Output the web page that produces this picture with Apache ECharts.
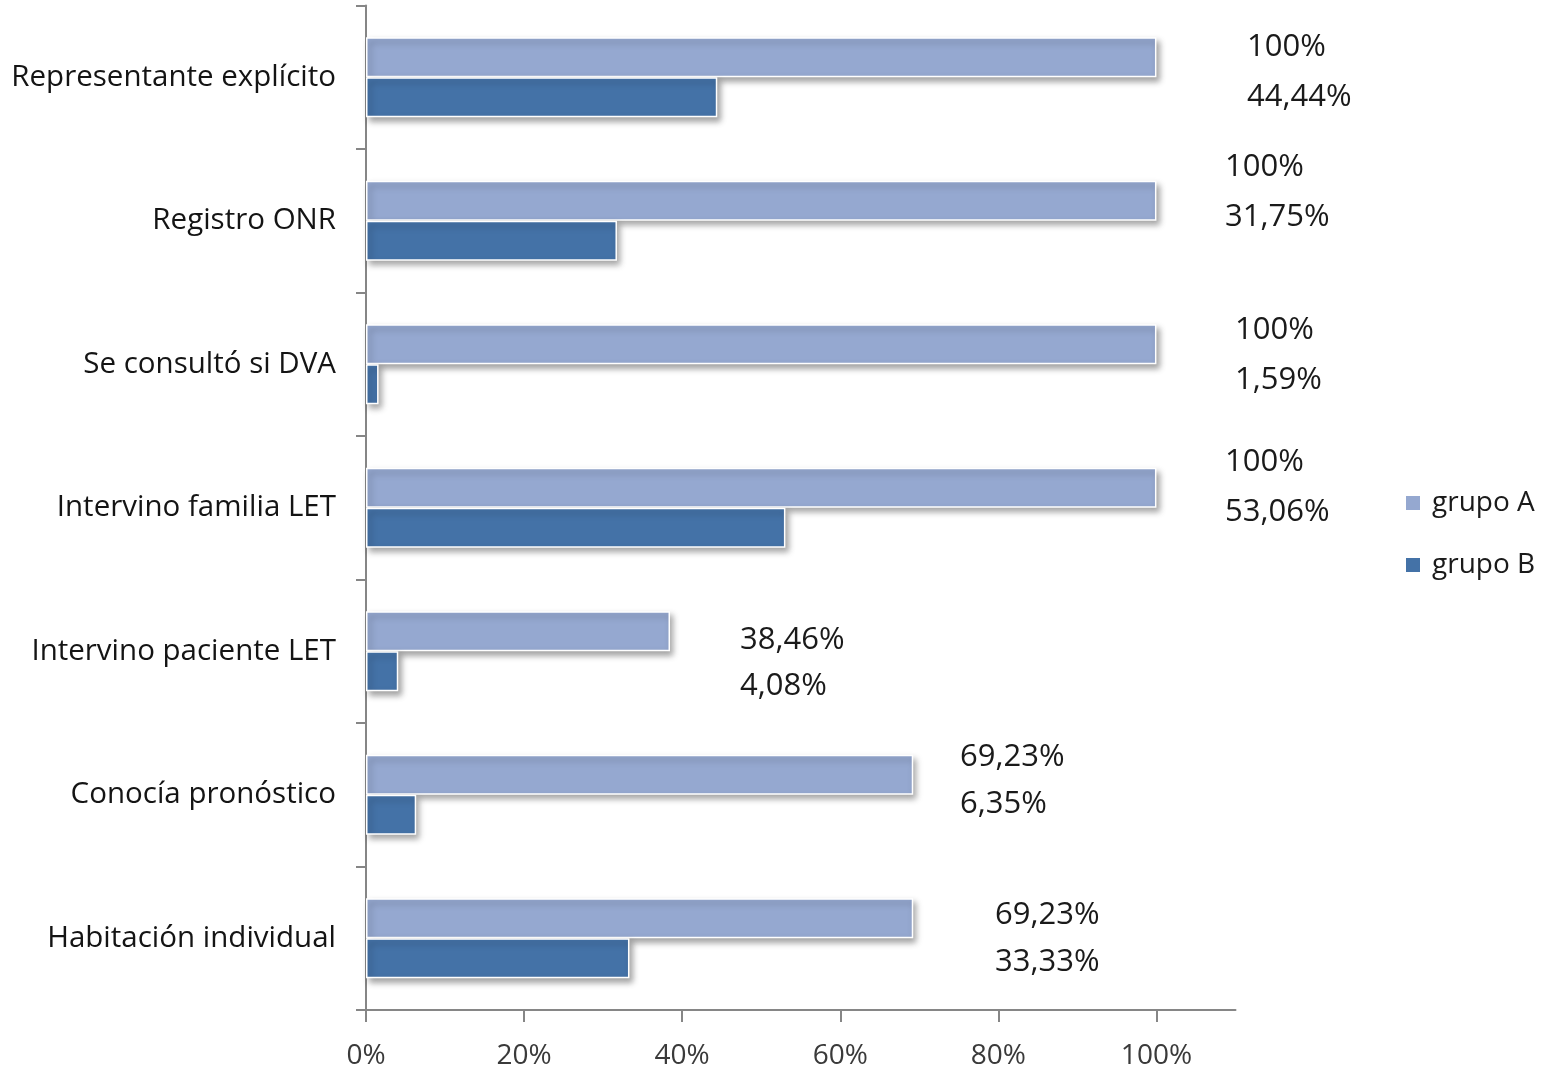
<!DOCTYPE html>
<html>
<head>
<meta charset="utf-8">
<script src="https://cdn.jsdelivr.net/npm/echarts@6/dist/echarts.min.js"></script>
<style>
  html, body { margin: 0; padding: 0; background: #ffffff; }
  #chart { width: 1545px; height: 1071px; }
</style>
</head>
<body>
<div id="chart"></div>
<script>
// Categories, top to bottom
const categories = [
  'Representante explícito',
  'Registro ONR',
  'Se consultó si DVA',
  'Intervino familia LET',
  'Intervino paciente LET',
  'Conocía pronóstico',
  'Habitación individual'
];
// Percentages per group
const grupoA = [100, 100, 100, 100, 38.46, 69.23, 69.23];
const grupoB = [44.44, 31.75, 1.59, 53.06, 4.08, 6.35, 33.33];
// Tick values on the percentage axis
const xTicks = [0, 20, 40, 60, 80, 100];

// Where each pair of value labels sits: left edge x and centre y (px)
const labelX  = [1247, 1225, 1235, 1225, 740, 960, 995];
const labelYA = [47, 167, 330, 462, 640, 757, 915];
const labelYB = [97, 217, 380, 512, 686, 804, 962];

// Plot area geometry
const gridLeft = 366, gridTop = 5.5, gridBottomY = 1010, gridRightX = 1235.5;
const W = 1545, H = 1071;
const barW = 40;
const band = (gridBottomY - gridTop) / categories.length;

const fontFamily = '"Open Sans", "Noto Sans", sans-serif';

function fmt(v) {
  return (Number.isInteger(v) ? String(v) : v.toFixed(2).replace('.', ',')) + '%';
}

function seriesData(values, labelY, isA) {
  return values.map(function (v, i) {
    const centre = gridTop + band * (i + 0.5);
    const top = isA ? centre - barW : centre;
    return {
      value: v,
      label: {
        position: [labelX[i] - gridLeft, labelY[i] - top]
      }
    };
  });
}

const labelStyle = {
  show: true,
  align: 'left',
  verticalAlign: 'middle',
  fontFamily: fontFamily,
  fontSize: 31,
  color: '#1a1a1a',
  formatter: function (p) { return fmt(p.value); }
};

const barStyle = function (color) {
  return {
    color: color,
    borderColor: '#ffffff',
    borderWidth: 1.5,
    shadowBlur: 6,
    shadowOffsetX: 3,
    shadowOffsetY: 4,
    shadowColor: 'rgba(0,0,0,0.35)'
  };
};

const chart = echarts.init(document.getElementById('chart'), null, { renderer: 'canvas' });

chart.setOption({
  backgroundColor: '#ffffff',
  animation: false,
  grid: {
    left: gridLeft,
    top: gridTop,
    right: W - gridRightX,
    bottom: H - gridBottomY,
    containLabel: false
  },
  legend: {
    orient: 'vertical',
    left: 1404,
    top: 489,
    padding: 0,
    itemWidth: 16,
    itemHeight: 16,
    itemGap: 34,
    icon: 'rect',
    data: ['grupo A', 'grupo B'],
    textStyle: {
      fontFamily: fontFamily,
      fontSize: 28,
      lineHeight: 28,
      color: '#1a1a1a',
      padding: [0, 0, 0, 6]
    }
  },
  xAxis: {
    type: 'value',
    min: 0,
    max: 110,
    interval: 20,
    splitLine: { show: false },
    axisLine: { show: true, lineStyle: { color: '#868686', width: 2 } },
    axisTick: {
      show: true,
      length: 12,
      customValues: xTicks,
      lineStyle: { color: '#868686', width: 2 }
    },
    axisLabel: {
      customValues: xTicks,
      formatter: '{value}%',
      margin: 32,
      fontFamily: fontFamily,
      fontSize: 28,
      color: '#3a3a3a'
    }
  },
  yAxis: {
    type: 'category',
    inverse: true,
    data: categories,
    axisLine: { show: true, lineStyle: { color: '#868686', width: 2 } },
    axisTick: { show: true, length: 10, lineStyle: { color: '#868686', width: 2 } },
    axisLabel: {
      margin: 30,
      fontFamily: fontFamily,
      fontSize: 29.5,
      color: '#141414'
    }
  },
  series: [
    {
      name: 'grupo A',
      type: 'bar',
      barWidth: barW,
      barGap: '0%',
      itemStyle: barStyle('#95a8d0'),
      label: labelStyle,
      data: seriesData(grupoA, labelYA, true)
    },
    {
      name: 'grupo B',
      type: 'bar',
      barWidth: barW,
      barGap: '0%',
      itemStyle: barStyle('#4472a7'),
      label: labelStyle,
      data: seriesData(grupoB, labelYB, false)
    }
  ]
});
</script>
</body>
</html>
